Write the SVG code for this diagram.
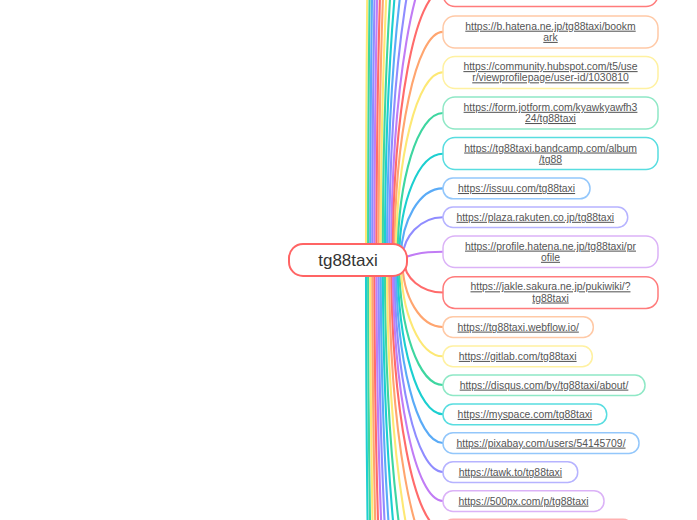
<svg xmlns="http://www.w3.org/2000/svg" width="697" height="520" viewBox="0 0 697 520">
<style>
.l{fill:none;stroke-width:2.1}
.c0{stroke:#ff6b6b}.c1{stroke:#ffa56f}.c2{stroke:#fde874}.c3{stroke:#3ed6a0}
.c4{stroke:#1ccfd0}.c5{stroke:#5aabf7}.c6{stroke:#8f8cff}.c7{stroke:#c17cf5}
.n{fill:#fff;stroke-width:1.5}
.n0{stroke:#ff7b7b}.n1{stroke:#ffc9a6}.n2{stroke:#fff1a1}.n3{stroke:#8fe8c6}
.n4{stroke:#58dde0}.n5{stroke:#93c7fb}.n6{stroke:#b6b3ff}.n7{stroke:#dbb2f7}
.t{font-family:"Liberation Sans",Arial,sans-serif;font-size:10.4px;fill:#555;text-anchor:middle;text-decoration:underline}
.ct{font-family:"Liberation Sans",Arial,sans-serif;font-size:17px;fill:#333;text-anchor:middle}
</style>
<rect width="697" height="520" fill="#fff"/>
<g id="connectors">
<path class="l c2" d="M366,260 C366,-513.1 400.5,-1140.5 443,-1140.5"/>
<path class="l c3" d="M368.1,260 C368.1,-438.6 401.7,-1005.5 443,-1005.5"/>
<path class="l c5" d="M370.2,260 C370.2,-368.5 402.8,-878.5 443,-878.5"/>
<path class="l c6" d="M372.3,260 C372.3,-302.8 404,-759.5 443,-759.5"/>
<path class="l c7" d="M374.4,260 C374.4,-241.5 405.1,-648.5 443,-648.5"/>
<path class="l c0" d="M376.5,260 C376.5,-184.6 406.3,-545.5 443,-545.5"/>
<path class="l c1" d="M378.6,260 C378.6,-132.2 407.5,-450.5 443,-450.5"/>
<path class="l c2" d="M380.7,260 C380.7,-84.2 408.6,-363.5 443,-363.5"/>
<path class="l c3" d="M382.8,260 C382.8,-40.6 409.8,-284.5 443,-284.5"/>
<path class="l c4" d="M384.9,260 C384.9,-1.4 410.9,-213.5 443,-213.5"/>
<path class="l c5" d="M387,260 C387,33.4 412.1,-150.5 443,-150.5"/>
<path class="l c6" d="M389.1,260 C389.1,63.8 413.2,-95.5 443,-95.5"/>
<path class="l c7" d="M391.2,260 C391.2,89.7 414.4,-48.5 443,-48.5"/>
<path class="l c0" d="M392.8,260 C392.8,111.2 415.3,-9.5 443,-9.5"/>
<path class="l c1" d="M394.4,260 C394.4,134.1 416.2,31.9 443,31.9"/>
<path class="l c2" d="M396,260 C396,156.4 417.1,72.3 443,72.3"/>
<path class="l c3" d="M397.6,260 C397.6,178.9 417.9,113 443,113"/>
<path class="l c4" d="M399.2,260 C399.2,201.3 418.8,153.7 443,153.7"/>
<path class="l c5" d="M400.8,260 C400.8,220.5 419.7,188.4 443,188.4"/>
<path class="l c6" d="M402.4,260 C402.4,236.4 420.6,217.2 443,217.2"/>
<path class="l c7" d="M404,260 C404,255.5 421.5,251.8 443,251.8"/>
<path class="l c4" d="M366,260 C366,945.4 400.5,1501.7 443,1501.7"/>
<path class="l c3" d="M368.1,260 C368.1,876.4 401.7,1376.7 443,1376.7"/>
<path class="l c2" d="M370.2,260 C370.2,811.8 402.8,1259.7 443,1259.7"/>
<path class="l c1" d="M372.3,260 C372.3,751.7 404,1150.7 443,1150.7"/>
<path class="l c0" d="M374.4,260 C374.4,695.9 405.1,1049.7 443,1049.7"/>
<path class="l c7" d="M376.5,260 C376.5,644.6 406.3,956.7 443,956.7"/>
<path class="l c6" d="M378.6,260 C378.6,597.7 407.5,871.7 443,871.7"/>
<path class="l c5" d="M380.7,260 C380.7,555.2 408.6,794.7 443,794.7"/>
<path class="l c4" d="M382.8,260 C382.8,517.1 409.8,725.7 443,725.7"/>
<path class="l c3" d="M384.9,260 C384.9,483.4 410.9,664.7 443,664.7"/>
<path class="l c2" d="M387,260 C387,454.1 412.1,611.7 443,611.7"/>
<path class="l c1" d="M389.1,260 C389.1,429.3 413.2,566.7 443,566.7"/>
<path class="l c0" d="M391.2,260 C391.2,408.9 414.4,529.7 443,529.7"/>
<path class="l c7" d="M392.8,260 C392.8,393 415.3,501 443,501"/>
<path class="l c6" d="M394.4,260 C394.4,377 416.2,472 443,472"/>
<path class="l c5" d="M396,260 C396,361 417.1,443 443,443"/>
<path class="l c4" d="M397.6,260 C397.6,345.2 417.9,414.3 443,414.3"/>
<path class="l c3" d="M399.2,260 C399.2,329 418.8,385 443,385"/>
<path class="l c2" d="M400.8,260 C400.8,313.2 419.7,356.3 443,356.3"/>
<path class="l c1" d="M402.4,260 C402.4,297 420.6,327 443,327"/>
<path class="l c0" d="M404,260 C404,277.9 421.5,292.5 443,292.5"/>
</g>
<g id="center">
<rect x="289" y="244" width="118" height="32" rx="14" fill="#fff" stroke="#ff6464" stroke-width="2"/>
<text class="ct" x="348" y="266">tg88taxi</text>
</g>
<g id="n-top"><rect class="n n0" x="443" y="-25.5" width="215" height="32" rx="12"/></g>
<g id="n-bhatena"><rect class="n n1" x="443" y="16" width="215" height="32" rx="12"/>
<text class="t" x="550.5" y="29.7">https://b.hatena.ne.jp/tg88taxi/bookm</text><text class="t" x="550.5" y="40.9">ark</text></g>
<g id="n-hubspot"><rect class="n n2" x="443" y="56.5" width="215" height="32" rx="12"/>
<text class="t" x="550.5" y="70.1">https://community.hubspot.com/t5/use</text><text class="t" x="550.5" y="81.3">r/viewprofilepage/user-id/1030810</text></g>
<g id="n-jotform"><rect class="n n3" x="443" y="97" width="215" height="32" rx="12"/>
<text class="t" x="550.5" y="110.8">https://form.jotform.com/kyawkyawfh3</text><text class="t" x="550.5" y="122">24/tg88taxi</text></g>
<g id="n-bandcamp"><rect class="n n4" x="443" y="137.5" width="215" height="32" rx="12"/>
<text class="t" x="550.5" y="151.5">https://tg88taxi.bandcamp.com/album</text><text class="t" x="550.5" y="162.7">/tg88</text></g>
<g id="n-issuu"><rect class="n n5" x="443" y="178" width="147" height="20.8" rx="10"/>
<text class="t" x="516.5" y="192">https://issuu.com/tg88taxi</text></g>
<g id="n-plaza"><rect class="n n6" x="443" y="207" width="184.7" height="20.5" rx="10"/>
<text class="t" x="535.3" y="220.8">https://plaza.rakuten.co.jp/tg88taxi</text></g>
<g id="n-profile"><rect class="n n7" x="443" y="236" width="215" height="31.5" rx="12"/>
<text class="t" x="550.5" y="249.6">https://profile.hatena.ne.jp/tg88taxi/pr</text><text class="t" x="550.5" y="260.8">ofile</text></g>
<g id="n-jakle"><rect class="n n0" x="443" y="276.7" width="215" height="31.7" rx="12"/>
<text class="t" x="550.5" y="290.3">https://jakle.sakura.ne.jp/pukiwiki/?</text><text class="t" x="550.5" y="301.5">tg88taxi</text></g>
<g id="n-webflow"><rect class="n n1" x="443" y="316.7" width="150.3" height="20.7" rx="10"/>
<text class="t" x="518.2" y="330.6">https://tg88taxi.webflow.io/</text></g>
<g id="n-gitlab"><rect class="n n2" x="443" y="346" width="149.3" height="20.7" rx="10"/>
<text class="t" x="517.7" y="359.9">https://gitlab.com/tg88taxi</text></g>
<g id="n-disqus"><rect class="n n3" x="443" y="375" width="202" height="20.4" rx="10"/>
<text class="t" x="544" y="388.6">https://disqus.com/by/tg88taxi/about/</text></g>
<g id="n-myspace"><rect class="n n4" x="443" y="404" width="163.7" height="20.7" rx="10"/>
<text class="t" x="524.9" y="417.9">https://myspace.com/tg88taxi</text></g>
<g id="n-pixabay"><rect class="n n5" x="443" y="432.7" width="196" height="20.7" rx="10"/>
<text class="t" x="541" y="446.6">https://pixabay.com/users/54145709/</text></g>
<g id="n-tawk"><rect class="n n6" x="443" y="461.7" width="134.7" height="20.7" rx="10"/>
<text class="t" x="510.4" y="475.6">https://tawk.to/tg88taxi</text></g>
<g id="n-500px"><rect class="n n7" x="443" y="490.7" width="161" height="20.7" rx="10"/>
<text class="t" x="523.5" y="504.6">https://500px.com/p/tg88taxi</text></g>
<g id="n-bottom"><rect class="n" stroke="#ffb0b0" x="443" y="519.3" width="190" height="20.7" rx="10"/></g>
</svg>
